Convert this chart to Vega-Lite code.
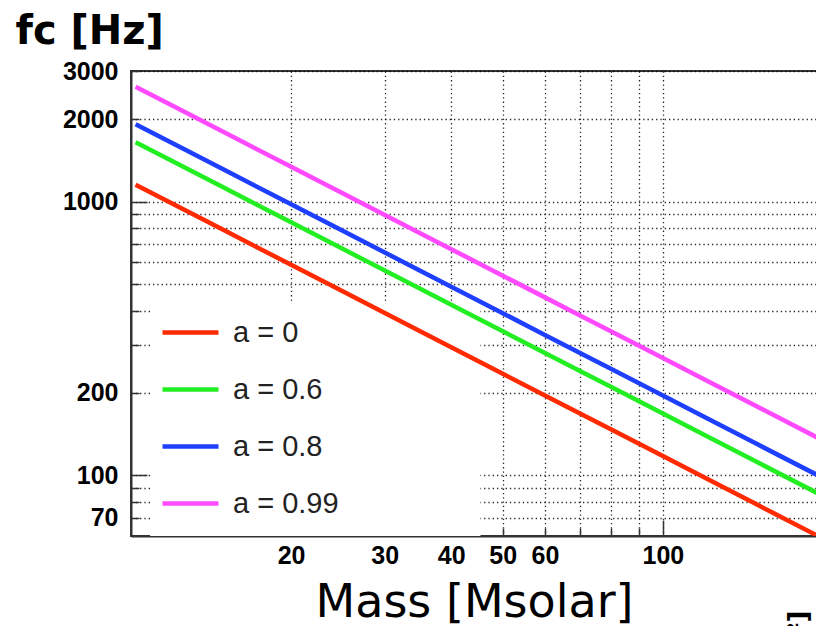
{
  "$schema": "https://vega.github.io/schema/vega-lite/v6.json",
  "width": 692,
  "height": 465,
  "autosize": {"type": "none"},
  "padding": {"left": 131, "top": 71, "right": 0, "bottom": 90},
  "background": "white",
  "config": {"view": {"stroke": "#333333", "strokeWidth": 2}},
  "datasets": {
    "curves": [
      {"M": 10.2, "fc": 1152, "series": "a = 0"},
      {"M": 12, "fc": 979.2, "series": "a = 0"},
      {"M": 15, "fc": 783.3, "series": "a = 0"},
      {"M": 20, "fc": 587.5, "series": "a = 0"},
      {"M": 25, "fc": 470, "series": "a = 0"},
      {"M": 30, "fc": 391.7, "series": "a = 0"},
      {"M": 40, "fc": 293.8, "series": "a = 0"},
      {"M": 50, "fc": 235, "series": "a = 0"},
      {"M": 60, "fc": 195.8, "series": "a = 0"},
      {"M": 70, "fc": 167.9, "series": "a = 0"},
      {"M": 80, "fc": 146.9, "series": "a = 0"},
      {"M": 100, "fc": 117.5, "series": "a = 0"},
      {"M": 120, "fc": 97.9, "series": "a = 0"},
      {"M": 150, "fc": 78.3, "series": "a = 0"},
      {"M": 200, "fc": 58.75, "series": "a = 0"},
      {"M": 10.2, "fc": 1647, "series": "a = 0.6"},
      {"M": 12, "fc": 1400, "series": "a = 0.6"},
      {"M": 15, "fc": 1120, "series": "a = 0.6"},
      {"M": 20, "fc": 840, "series": "a = 0.6"},
      {"M": 25, "fc": 672, "series": "a = 0.6"},
      {"M": 30, "fc": 560, "series": "a = 0.6"},
      {"M": 40, "fc": 420, "series": "a = 0.6"},
      {"M": 50, "fc": 336, "series": "a = 0.6"},
      {"M": 60, "fc": 280, "series": "a = 0.6"},
      {"M": 70, "fc": 240, "series": "a = 0.6"},
      {"M": 80, "fc": 210, "series": "a = 0.6"},
      {"M": 100, "fc": 168, "series": "a = 0.6"},
      {"M": 120, "fc": 140, "series": "a = 0.6"},
      {"M": 150, "fc": 112, "series": "a = 0.6"},
      {"M": 200, "fc": 84, "series": "a = 0.6"},
      {"M": 10.2, "fc": 1916.7, "series": "a = 0.8"},
      {"M": 12, "fc": 1629.2, "series": "a = 0.8"},
      {"M": 15, "fc": 1303.3, "series": "a = 0.8"},
      {"M": 20, "fc": 977.5, "series": "a = 0.8"},
      {"M": 25, "fc": 782, "series": "a = 0.8"},
      {"M": 30, "fc": 651.7, "series": "a = 0.8"},
      {"M": 40, "fc": 488.8, "series": "a = 0.8"},
      {"M": 50, "fc": 391, "series": "a = 0.8"},
      {"M": 60, "fc": 325.8, "series": "a = 0.8"},
      {"M": 70, "fc": 279.3, "series": "a = 0.8"},
      {"M": 80, "fc": 244.4, "series": "a = 0.8"},
      {"M": 100, "fc": 195.5, "series": "a = 0.8"},
      {"M": 120, "fc": 162.9, "series": "a = 0.8"},
      {"M": 150, "fc": 130.3, "series": "a = 0.8"},
      {"M": 200, "fc": 97.75, "series": "a = 0.8"},
      {"M": 10.2, "fc": 2627.5, "series": "a = 0.99"},
      {"M": 12, "fc": 2233.3, "series": "a = 0.99"},
      {"M": 15, "fc": 1786.7, "series": "a = 0.99"},
      {"M": 20, "fc": 1340, "series": "a = 0.99"},
      {"M": 25, "fc": 1072, "series": "a = 0.99"},
      {"M": 30, "fc": 893.3, "series": "a = 0.99"},
      {"M": 40, "fc": 670, "series": "a = 0.99"},
      {"M": 50, "fc": 536, "series": "a = 0.99"},
      {"M": 60, "fc": 446.7, "series": "a = 0.99"},
      {"M": 70, "fc": 382.9, "series": "a = 0.99"},
      {"M": 80, "fc": 335, "series": "a = 0.99"},
      {"M": 100, "fc": 268, "series": "a = 0.99"},
      {"M": 120, "fc": 223.3, "series": "a = 0.99"},
      {"M": 150, "fc": 178.7, "series": "a = 0.99"},
      {"M": 200, "fc": 134, "series": "a = 0.99"}
    ],
    "one": [{"k": 1}]
  },
  "layer": [
    {
      "data": {"name": "one"},
      "mark": {"type": "rect", "fill": "white", "stroke": null},
      "encoding": {
        "x": {"datum": 10.86, "type": "quantitative", "scale": {"type": "log", "domain": [10, 200]}},
        "x2": {"datum": 45.4},
        "y": {"datum": 60, "type": "quantitative", "scale": {"type": "log", "domain": [60, 3000]}},
        "y2": {"datum": 425}
      }
    },
    {
      "data": {"name": "curves"},
      "mark": {"type": "line", "strokeWidth": 4.5, "clip": true},
      "encoding": {
        "x": {
          "field": "M",
          "type": "quantitative",
          "scale": {"type": "log", "domain": [10, 200]},
          "axis": {
            "title": "Mass [Msolar]",
            "titleFont": "DejaVu Sans",
            "titleFontSize": 46,
            "titleFontWeight": "normal",
            "titleColor": "#000000",
            "titleX": 343,
            "titleY": 80,
            "titleAlign": "center",
            "titleBaseline": "alphabetic",
            "values": [20, 30, 40, 50, 60, 70, 80, 90, 100],
            "format": "d",
            "labelExpr": "indexof([20,30,40,50,60,100], datum.value) >= 0 ? datum.label : ''",
            "labelFont": "Liberation Sans",
            "labelFontWeight": "bold",
            "labelFontSize": 25,
            "labelColor": "#000000",
            "labelPadding": {"condition": {"test": "datum.value == 100", "value": 23}, "value": 15},
            "labelOverlap": false,
            "labelFlush": false,
            "labelBound": false,
            "tickSize": {"condition": {"test": "datum.value == 100", "value": -16}, "value": -8},
            "tickColor": "#333333",
            "tickWidth": 1.5,
            "domainColor": "#333333",
            "domainWidth": 2,
            "grid": true,
            "gridColor": "#000000",
            "gridDash": [1.3, 3],
            "gridWidth": 1.3,
            "gridOpacity": 0.85
          }
        },
        "y": {
          "field": "fc",
          "type": "quantitative",
          "scale": {"type": "log", "domain": [60, 3000]},
          "axis": {
            "title": "fc [Hz]",
            "titleFont": "DejaVu Sans",
            "titleFontSize": 40,
            "titleFontWeight": "bold",
            "titleColor": "#000000",
            "titleAngle": 0,
            "titleX": -116,
            "titleY": -28,
            "titleAlign": "left",
            "titleBaseline": "alphabetic",
            "values": [70, 80, 90, 100, 200, 300, 400, 500, 600, 700, 800, 900, 1000, 2000, 3000],
            "format": "d",
            "labelExpr": "indexof([3000,2000,1000,200,100,70], datum.value) >= 0 ? datum.label : ''",
            "labelFont": "Liberation Sans",
            "labelFontWeight": "bold",
            "labelFontSize": 25,
            "labelColor": "#000000",
            "labelPadding": {"condition": {"test": "datum.value == 100 || datum.value == 1000", "value": 29}, "value": 21},
            "labelOverlap": false,
            "labelFlush": false,
            "labelBound": false,
            "tickSize": {"condition": {"test": "datum.value == 100 || datum.value == 1000", "value": -16}, "value": -8},
            "tickColor": "#333333",
            "tickWidth": 1.5,
            "domainColor": "#333333",
            "domainWidth": 2,
            "grid": true,
            "gridColor": "#000000",
            "gridDash": [1.3, 3],
            "gridWidth": 1.3,
            "gridOpacity": 0.85
          }
        },
        "color": {
          "field": "series",
          "type": "nominal",
          "scale": {
            "domain": ["a = 0", "a = 0.6", "a = 0.8", "a = 0.99"],
            "range": ["#ff2a00", "#22ee22", "#1f3fff", "#ff4aff"]
          },
          "legend": {
            "title": null,
            "orient": "none",
            "legendX": 29,
            "legendY": 231,
            "padding": 0,
            "symbolType": "stroke",
            "symbolSize": 3136,
            "symbolStrokeWidth": 4.5,
            "rowPadding": 11,
            "labelOffset": 12,
            "labelFont": "Liberation Sans",
            "labelFontSize": 29,
            "labelColor": "#222222",
            "labelLimit": 300
          }
        }
      }
    },
    {
      "data": {"name": "one"},
      "mark": {
        "type": "text",
        "text": "²]",
        "angle": 270,
        "align": "right",
        "baseline": "alphabetic",
        "font": "DejaVu Sans",
        "fontWeight": "bold",
        "fontSize": 26,
        "color": "#000000",
        "clip": false
      },
      "encoding": {
        "x": {"datum": 186.9, "type": "quantitative", "scale": {"type": "log", "domain": [10, 200]}},
        "y": {"datum": 32.05, "type": "quantitative", "scale": {"type": "log", "domain": [60, 3000]}}
      }
    }
  ]
}
